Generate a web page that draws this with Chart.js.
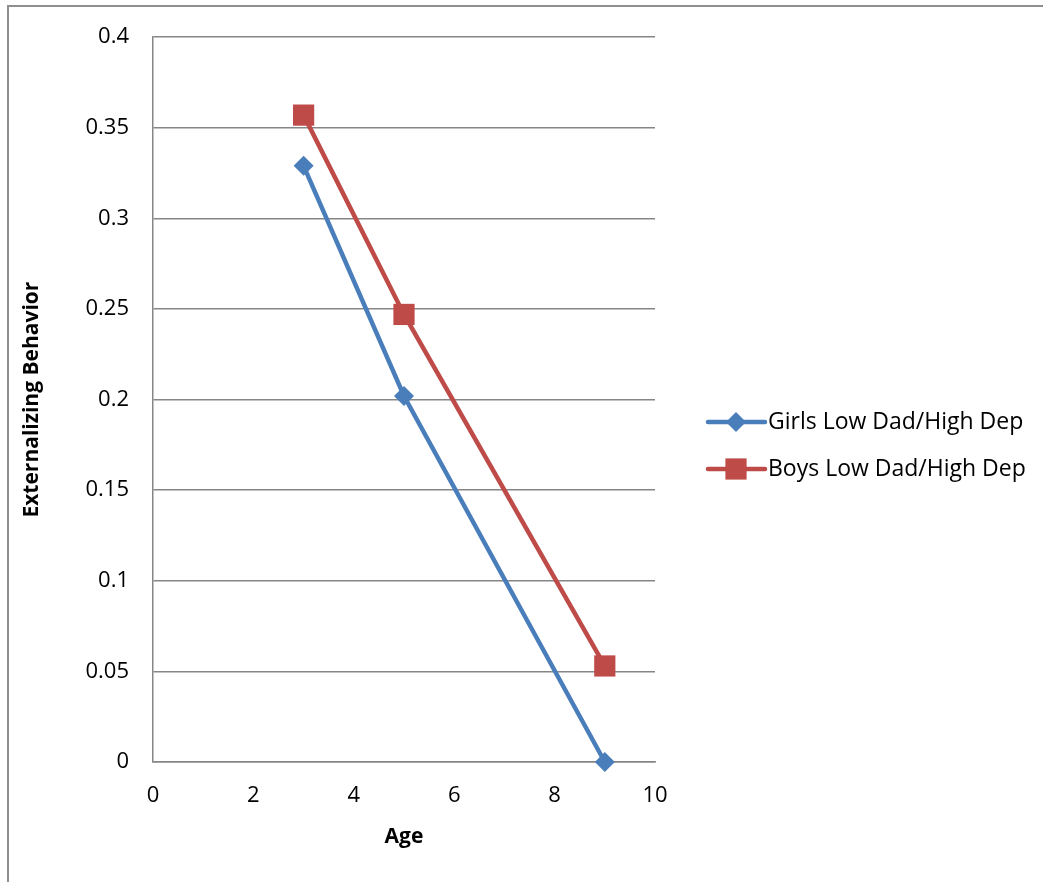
<!DOCTYPE html>
<html>
<head>
<meta charset="utf-8">
<script src="https://cdn.jsdelivr.net/npm/chart.js@4/dist/chart.umd.min.js"></script>
<style>
  html, body { margin: 0; padding: 0; background: #fff; }
  #frame { position: absolute; left: 7px; top: 5px; width: 1036px; height: 877px;
           border-top: 2px solid #8e8e8e; border-left: 2px solid #8e8e8e; }
  #wrap { position: absolute; left: 0; top: 0; width: 1043px; height: 882px; }
</style>
</head>
<body>
<div id="frame"></div>
<div id="wrap"><canvas id="chart"></canvas></div>
<script>
const ages = [3, 5, 9];
const girls = [0.329, 0.202, 0];
const boys = [0.357, 0.247, 0.053];
const seriesNames = ["Girls Low Dad/High Dep", "Boys Low Dad/High Dep"];
const xTicks = [0, 2, 4, 6, 8, 10];
const yTicks = [0, 0.05, 0.1, 0.15, 0.2, 0.25, 0.3, 0.35, 0.4];

const FONT = "'Open Sans', sans-serif";
const gridGray = "#868686";

const toPoints = (ys) => ys.map((y, i) => ({ x: ages[i], y }));

// draws the line + marker legend to the right of the plot
const sideLegend = {
  id: "sideLegend",
  afterDraw(chart) {
    const { ctx, chartArea } = chart;
    const x0 = chartArea.right + 53;
    const rows = [422, 469];
    chart.data.datasets.forEach((ds, i) => {
      const y = rows[i];
      ctx.save();
      ctx.strokeStyle = ds.borderColor;
      ctx.lineWidth = ds.borderWidth;
      ctx.lineCap = "round";
      ctx.beginPath();
      ctx.moveTo(x0, y);
      ctx.lineTo(x0 + 57, y);
      ctx.stroke();
      ctx.fillStyle = ds.pointBackgroundColor;
      Chart.helpers.drawPoint(ctx, {
        pointStyle: ds.pointStyle,
        radius: ds.pointRadius,
        rotation: 0,
        borderWidth: 0,
      }, x0 + 28, y);
      ctx.fillStyle = "#000";
      ctx.font = "23px " + FONT;
      ctx.textBaseline = "middle";
      ctx.fillText(seriesNames[i], x0 + 60, y);
      ctx.restore();
    });
  },
};

new Chart(document.getElementById("chart"), {
  type: "line",
  data: {
    datasets: [
      {
        label: seriesNames[0],
        data: toPoints(girls),
        borderColor: "#4a7ebb",
        backgroundColor: "#4a7ebb",
        pointBackgroundColor: "#4a7ebb",
        pointBorderColor: "#4a7ebb",
        borderWidth: 4.5,
        pointStyle: "rectRot",
        pointRadius: 10,
        pointBorderWidth: 0,
        tension: 0,
      },
      {
        label: seriesNames[1],
        data: toPoints(boys),
        borderColor: "#be4b48",
        backgroundColor: "#be4b48",
        pointBackgroundColor: "#be4b48",
        pointBorderColor: "#be4b48",
        borderWidth: 4.5,
        pointStyle: "rect",
        pointRadius: 15,
        pointBorderWidth: 0,
        tension: 0,
      },
    ],
  },
  options: {
    responsive: true,
    maintainAspectRatio: false,
    animation: false,
    clip: false,
    layout: { padding: { left: 0, top: 33, right: 388, bottom: 0 } },
    plugins: { legend: { display: false }, tooltip: { enabled: false } },
    scales: {
      x: {
        type: "linear",
        min: 0,
        max: 10,
        afterBuildTicks: (scale) => { scale.ticks = xTicks.map((v) => ({ value: v })); },
        afterFit: (scale) => { scale.height = 120; },
        grid: { display: false, drawTicks: false },
        border: { display: true, color: gridGray, width: 1.5 },
        ticks: { color: "#000", font: { family: FONT, size: 22 }, padding: 21, maxRotation: 0 },
        title: { display: true, text: "Age", color: "#000", font: { family: FONT, size: 21, weight: "bold" }, padding: { bottom: 32 } },
      },
      y: {
        min: 0,
        max: 0.4,
        afterBuildTicks: (scale) => { scale.ticks = yTicks.map((v) => ({ value: v })); },
        afterFit: (scale) => { scale.width = 153; },
        grid: { color: gridGray, lineWidth: 1.5, drawTicks: false },
        border: { display: true, color: gridGray, width: 1.5 },
        ticks: { color: "#000", font: { family: FONT, size: 22 }, padding: 24, callback: (v) => String(v) },
        title: { display: true, text: "Externalizing Behavior", color: "#000", font: { family: FONT, size: 21, weight: "bold" }, padding: { top: 19 } },
      },
    },
  },
  plugins: [sideLegend],
});
</script>
</body>
</html>
